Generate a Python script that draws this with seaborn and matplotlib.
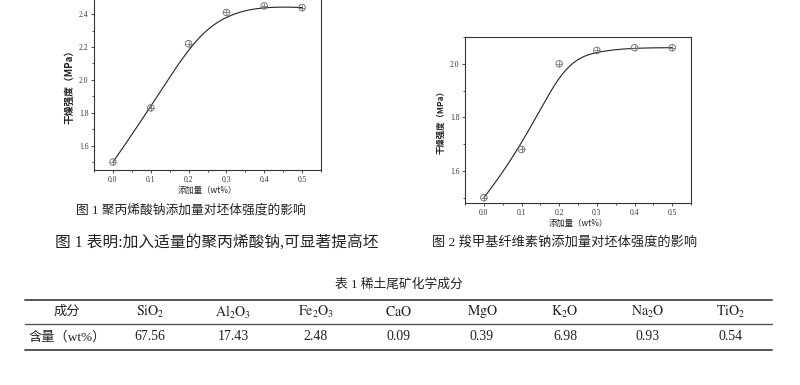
import numpy as np
import matplotlib
matplotlib.use('Agg')
import matplotlib.pyplot as plt
import seaborn as sns
from matplotlib.ticker import MultipleLocator, FormatStrFormatter

dose = [0.0, 0.1, 0.2, 0.3, 0.4, 0.5]
strength_paas = [1.50, 1.83, 2.22, 2.41, 2.45, 2.44]
strength_cmc = [1.50, 1.68, 2.00, 2.05, 2.06, 2.06]

components = [r'$\mathrm{SiO_2}$', r'$\mathrm{Al_2O_3}$', r'$\mathrm{Fe_2O_3}$',
              r'$\mathrm{CaO}$', r'$\mathrm{MgO}$', r'$\mathrm{K_2O}$',
              r'$\mathrm{Na_2O}$', r'$\mathrm{TiO_2}$']
contents = [67.56, 17.43, 2.48, 0.09, 0.39, 6.98, 0.93, 0.54]

sns.set_style('ticks')
plt.rcParams['font.family'] = ['Liberation Serif', 'Noto Sans CJK SC', 'DejaVu Sans']
plt.rcParams['mathtext.fontset'] = 'stix'
CJK = ['Noto Sans CJK SC', 'DejaVu Sans']
SERIF = ['Liberation Serif', 'Noto Sans CJK SC']


def bspline_curve(x, y, n_pts=200, k=3):
    """clamped cubic B-spline using the data points as control points
    (same as the 'B-Spline' line connection in Origin)"""
    P = np.column_stack([x, y])
    n = len(P)
    t = np.concatenate([np.zeros(k), np.linspace(0, 1, n - k + 1), np.ones(k)])
    u = np.linspace(0, 1, n_pts)
    B = np.zeros((n_pts, len(t) - 1))
    for i in range(len(t) - 1):
        B[:, i] = (t[i] <= u) & (u < t[i + 1])
    B[u == 1, n - 1] = 1
    for d in range(1, k + 1):
        Bn = np.zeros((n_pts, len(t) - 1 - d))
        for i in range(len(t) - 1 - d):
            if t[i + d] > t[i]:
                Bn[:, i] += (u - t[i]) / (t[i + d] - t[i]) * B[:, i]
            if t[i + d + 1] > t[i + 1]:
                Bn[:, i] += (t[i + d + 1] - u) / (t[i + d + 1] - t[i + 1]) * B[:, i + 1]
        B = Bn
    curve = B @ P
    return curve[:, 0], curve[:, 1]


def draw_panel(ax, x, y, ylim, ylabel_size):
    xs, ys = bspline_curve(x, y)
    sns.lineplot(x=xs, y=ys, ax=ax, color='#222222', linewidth=0.8, sort=False)
    ax.scatter(x, y, s=22, facecolors='none', edgecolors='#777777', linewidths=0.7, zorder=3)
    ax.scatter(x, y, s=22, marker='+', color='#777777', linewidths=0.6, zorder=3)
    ax.set_xlim(-0.05, 0.55)
    ax.set_ylim(*ylim)
    ax.xaxis.set_major_locator(MultipleLocator(0.1))
    ax.xaxis.set_minor_locator(MultipleLocator(0.05))
    ax.yaxis.set_major_locator(MultipleLocator(0.2))
    ax.yaxis.set_minor_locator(MultipleLocator(0.1))
    ax.tick_params(which='both', direction='out', labelsize=5.5, pad=1.5,
                   width=0.6, color='#333333', labelcolor='#333333')
    ax.tick_params(which='major', length=2.5)
    ax.tick_params(which='minor', length=1.5)
    ax.xaxis.set_major_formatter(FormatStrFormatter('%.1f'))
    ax.yaxis.set_major_formatter(FormatStrFormatter('%.1f'))
    for side in ['top', 'right', 'left', 'bottom']:
        ax.spines[side].set_visible(True)
        ax.spines[side].set_linewidth(0.8)
        ax.spines[side].set_color('#333333')
    ax.set_xlabel('添加量（wt%）', family=CJK, fontsize=6, labelpad=2, color='#222222')
    ax.set_ylabel('干燥强度（MPa）', family=CJK, fontsize=ylabel_size,
                  fontweight='bold', labelpad=3, color='#222222')


fig = plt.figure(figsize=(8, 3.85), dpi=100)

ax1 = fig.add_axes([94 / 800, (385 - 170) / 385, 227 / 800, 172 / 385])
draw_panel(ax1, dose, strength_paas, (1.452, 2.498), 7)

ax2 = fig.add_axes([465 / 800, (385 - 203) / 385, 226 / 800, 166 / 385])
draw_panel(ax2, dose, strength_cmc, (1.48, 2.10), 6)

# overlay in pixel coordinates for captions and table
ov = fig.add_axes([0, 0, 1, 1])
ov.set_xlim(0, 800)
ov.set_ylim(385, 0)
ov.axis('off')
ov.patch.set_visible(False)

ov.text(191, 210, '图 1 聚丙烯酸钠添加量对坯体强度的影响', family=SERIF, fontsize=9.2,
        ha='center', va='center', color='#222222')
ov.text(55, 243, '图 1 表明:加入适量的聚丙烯酸钠,可显著提高坯', family=SERIF, fontsize=11.3,
        ha='left', va='center', color='#222222')
ov.text(565, 243, '图 2 羧甲基纤维素钠添加量对坯体强度的影响', family=SERIF, fontsize=9.5,
        ha='center', va='center', color='#222222')
ov.text(399, 285, '表 1 稀土尾矿化学成分', family=SERIF, fontsize=9.2,
        ha='center', va='center', color='#222222')

ov.plot([25, 772], [300, 300], color='#555555', linewidth=1.4)
ov.plot([25, 772], [324, 324], color='#555555', linewidth=1.0)
ov.plot([25, 772], [350, 350], color='#555555', linewidth=1.4)

col_x = [67 + 83 * k for k in range(9)]
ov.text(col_x[0], 312, '成分', family=SERIF, fontsize=9.5, ha='center', va='center', color='#222222')
ov.text(col_x[0], 337, '含量（wt%）', family=SERIF, fontsize=9.5, ha='center', va='center', color='#222222')
for cx, name, val in zip(col_x[1:], components, contents):
    ov.text(cx, 312, name, fontsize=10, ha='center', va='center', color='#222222')
    ov.text(cx, 337, '%.2f' % val, family=SERIF, fontsize=10, ha='center', va='center', color='#222222')

fig.savefig('out.png', dpi=100)
